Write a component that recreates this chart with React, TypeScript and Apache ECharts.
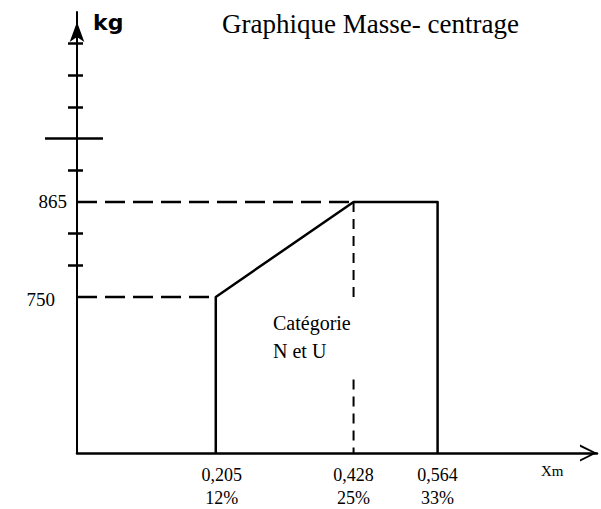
import React, { useEffect, useRef } from "react";
import * as echarts from "echarts";

// Axis extents (Xm on the horizontal axis, kg on the vertical axis)
const X_MIN = -0.0196;
const X_MAX = 0.822;
const Y_MIN = 561;
const Y_MAX = 1095;

// Tick labels
const xTickValues = [0.205, 0.428, 0.564];
const xTickTexts = ["0,205", "0,428", "0,564"];
const xTickPercents = ["12%", "25%", "33%"];
const yLabelValues = [750, 865];
const ySmallTicks = [788, 827, 903, 980, 1018, 1057];
const yLongTicks = [942];

// Envelope (solid outline)
const outlineX = [0.205, 0.205, 0.428, 0.564, 0.564];
const outlineY = [Y_MIN, 750, 865, 865, Y_MIN];

// Dashed guide lines
const guide750X = [X_MIN, 0.205];
const guide750Y = [750, 750];
const guide865X = [X_MIN, 0.428];
const guide865Y = [865, 865];
const guide428aX = [0.428, 0.428];
const guide428aY = [865, 744];
const guide428bX = [0.428, 0.428];
const guide428bY = [650, Y_MIN];

const SERIF = "Liberation Serif";

const pairs = (xs: number[], ys: number[]) => xs.map((x, i) => [x, ys[i]]);

export default function App() {
  const ref = useRef<HTMLDivElement>(null);

  useEffect(() => {
    if (!ref.current) return;
    const chart = echarts.init(ref.current, undefined, { renderer: "svg" });

    const baseY = {
      type: "value",
      min: Y_MIN,
      max: Y_MAX,
      position: "left",
      splitLine: { show: false },
    };

    const dashed = (xs: number[], ys: number[], width: number, dash: number[]) => ({
      type: "line",
      data: pairs(xs, ys),
      symbol: "none",
      clip: false,
      silent: true,
      lineStyle: { color: "#000", width, type: dash },
    });

    const option: any = {
      animation: false,
      backgroundColor: "#ffffff",
      title: {
        text: "Graphique Masse- centrage",
        left: 222,
        top: 10,
        padding: 0,
        textStyle: {
          fontFamily: SERIF,
          fontSize: 27,
          fontWeight: "normal",
          color: "#000",
        },
      },
      grid: { left: 77, right: 4, top: 12, bottom: 56, containLabel: false },
      xAxis: {
        type: "value",
        min: X_MIN,
        max: X_MAX,
        splitLine: { show: false },
        axisTick: { show: false },
        axisLine: {
          onZero: false,
          lineStyle: { color: "#000", width: 2.5 },
          symbol: ["none", "path://M0,20L10,0L20,20L17.5,20L10,4.5L2.5,20Z"],
          symbolSize: [20, 17],
          symbolOffset: [0, -8.5],
        },
        axisLabel: {
          customValues: xTickValues,
          margin: 10,
          color: "#000",
          fontFamily: SERIF,
          fontSize: 18,
          lineHeight: 23,
          formatter: (v: number) => {
            const i = xTickValues.findIndex((t) => Math.abs(t - v) < 1e-6);
            if (i < 0) return "";
            const s = i === 0 ? "s" : "n";
            return `{${s}|${xTickTexts[i]}}\n{${s}|${xTickPercents[i]}}`;
          },
          rich: {
            n: { fontFamily: SERIF, fontSize: 18, lineHeight: 23, color: "#000" },
            s: {
              fontFamily: SERIF,
              fontSize: 18,
              lineHeight: 23,
              color: "#000",
              padding: [0, 0, 0, 12],
            },
          },
        },
      },
      yAxis: [
        {
          ...baseY,
          axisLine: {
            show: true,
            onZero: false,
            lineStyle: { color: "#000", width: 2 },
            symbol: ["none", "arrow"],
            symbolSize: [11, 20],
            symbolOffset: [0, -10],
          },
          axisTick: {
            show: true,
            customValues: ySmallTicks,
            length: 9,
            lineStyle: { color: "#000", width: 2.5 },
          },
          axisLabel: {
            customValues: yLabelValues,
            margin: 10,
            color: "#000",
            fontFamily: SERIF,
            fontSize: 19,
            formatter: (v: number) => {
              const r = Math.round(v);
              if (r === 865) return "{a|865}";
              if (r === 750) return "{b|750}";
              return "";
            },
            rich: {
              a: { fontFamily: SERIF, fontSize: 19, color: "#000" },
              b: {
                fontFamily: SERIF,
                fontSize: 19,
                color: "#000",
                padding: [6, 12, 0, 0],
              },
            },
          },
        },
        {
          ...baseY,
          axisLine: { show: false, onZero: false },
          axisLabel: { show: false },
          axisTick: {
            show: true,
            inside: true,
            customValues: ySmallTicks,
            length: 6,
            lineStyle: { color: "#000", width: 2.5 },
          },
        },
        {
          ...baseY,
          axisLine: { show: false, onZero: false },
          axisLabel: { show: false },
          axisTick: {
            show: true,
            customValues: yLongTicks,
            length: 32,
            lineStyle: { color: "#000", width: 2.5 },
          },
        },
        {
          ...baseY,
          axisLine: { show: false, onZero: false },
          axisLabel: { show: false },
          axisTick: {
            show: true,
            inside: true,
            customValues: yLongTicks,
            length: 26,
            lineStyle: { color: "#000", width: 2.5 },
          },
        },
      ],
      series: [
        {
          type: "line",
          data: pairs(outlineX, outlineY),
          symbol: "none",
          clip: false,
          silent: true,
          lineStyle: { color: "#000", width: 2.5, join: "round" },
        },
        dashed(guide750X, guide750Y, 2.5, [20, 8]),
        dashed(guide865X, guide865Y, 2.5, [20, 8]),
        dashed(guide428aX, guide428aY, 2, [10, 7]),
        dashed(guide428bX, guide428bY, 2, [10, 7]),
      ],
      graphic: [
        {
          type: "text",
          left: 93,
          top: 11,
          style: {
            text: "kg",
            fontFamily: "DejaVu Sans",
            fontSize: 22,
            fontWeight: "bold",
            fill: "#000",
          },
        },
        {
          type: "text",
          left: 273,
          top: 309,
          style: {
            text: "Catégorie\nN et U",
            fontFamily: SERIF,
            fontSize: 20,
            lineHeight: 28,
            fill: "#000",
          },
        },
        {
          type: "text",
          left: 541,
          top: 463,
          style: {
            text: "Xm",
            fontFamily: SERIF,
            fontSize: 15,
            fill: "#000",
          },
        },
      ],
    };

    chart.setOption(option);
    return () => chart.dispose();
  }, []);

  return (
    <div
      ref={ref}
      style={{ position: "absolute", left: 0, top: 0, width: 601, height: 509 }}
    />
  );
}
